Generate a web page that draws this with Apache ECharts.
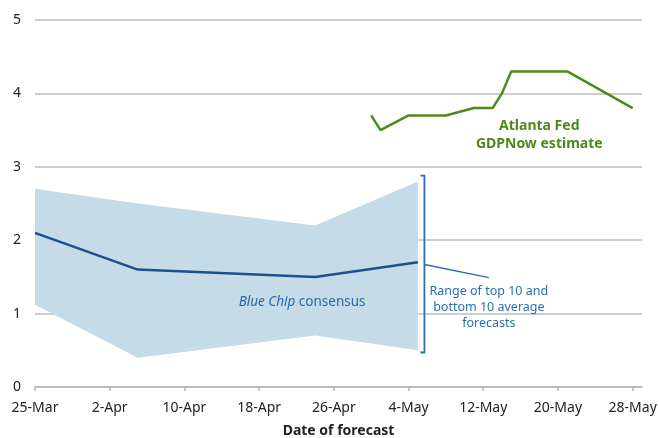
<!DOCTYPE html>
<html>
<head>
<meta charset="utf-8">
<script src="https://cdn.jsdelivr.net/npm/echarts@6/dist/echarts.min.js"></script>
<style>
html,body{margin:0;padding:0;background:#fff;}
#chart{width:659px;height:438px;}
</style>
</head>
<body>
<div id="chart"></div>
<script>
// Days since 25-Mar
const xTickLabels = ['25-Mar','2-Apr','10-Apr','18-Apr','26-Apr','4-May','12-May','20-May','28-May'];
const consensusDays = [0, 11, 30, 41];
const consensusValues = [2.1, 1.6, 1.5, 1.7];
const bandLow = [1.12, 0.4, 0.7, 0.5];
const bandHigh = [2.7, 2.5, 2.2, 2.8];
const gdpNowDays = [36, 37, 40, 44, 47, 49, 50, 51, 57, 64];
const gdpNowValues = [3.7, 3.5, 3.7, 3.7, 3.8, 3.8, 4.0, 4.3, 4.3, 3.8];

const FONT = '"Noto Sans", "Open Sans", sans-serif';
const chart = echarts.init(document.getElementById('chart'));

const bandRows = consensusDays.map((d, i) => [d, bandLow[i], bandHigh[i]]);

const option = {
  animation: false,
  grid: { left: 35, right: 17, top: 20, bottom: 51, containLabel: false, outerBoundsMode: 'none' },
  xAxis: {
    type: 'value', min: 0, max: 65, interval: 8,
    axisLine: { show: true, lineStyle: { color: '#b5b5b5', width: 1.5 } },
    axisTick: { show: true, length: 4, lineStyle: { color: '#b5b5b5', width: 1.5 } },
    splitLine: { show: false },
    axisLabel: {
      color: '#222', fontSize: 14, fontFamily: FONT, margin: 14,
      formatter: v => xTickLabels[Math.round(v / 8)] || ''
    },
    name: 'Date of forecast', nameLocation: 'middle', nameGap: 37,
    nameTextStyle: { color: '#222', fontSize: 14, fontWeight: 'bold', fontFamily: FONT }
  },
  yAxis: {
    type: 'value', min: 0, max: 5, interval: 1,
    axisLine: { show: false }, axisTick: { show: false },
    splitLine: { show: true, lineStyle: { color: '#bdbdbd', width: 1.5 } },
    axisLabel: { color: '#222', fontSize: 14, fontFamily: FONT, margin: 14 }
  },
  series: [
    {
      type: 'custom', coordinateSystem: 'cartesian2d', data: bandRows, z: 1, silent: true,
      encode: { x: 0, y: [1, 2] },
      renderItem: function (params, api) {
        if (params.dataIndex !== 0) return null;
        const upper = bandRows.map(r => api.coord([r[0], r[2]]));
        const lower = bandRows.map(r => api.coord([r[0], r[1]])).reverse();
        return { type: 'polygon', shape: { points: upper.concat(lower) },
          style: { fill: '#c5dbe8', stroke: null } };
      }
    },
    {
      type: 'line', data: consensusDays.map((d, i) => [d, consensusValues[i]]),
      symbol: 'none', lineStyle: { color: '#1d4f90', width: 2.5 }, z: 3
    },
    {
      type: 'line', data: gdpNowDays.map((d, i) => [d, gdpNowValues[i]]),
      symbol: 'none', lineStyle: { color: '#4b8b1b', width: 2.5 }, z: 3
    },
    {
      type: 'custom', coordinateSystem: 'cartesian2d', data: [[0, 0]], z: 4, silent: true,
      renderItem: function (params, api) {
        const top = api.coord([41.7, 2.88]);
        const bot = api.coord([41.7, 0.47]);
        const mid = api.coord([41.7, 1.67]);
        const leadEnd = api.coord([48.6, 1.49]);
        const bc = '#2a6fae';
        const rangeC = api.coord([48.6, 1.09]);
        const blueC = api.coord([28.6, 1.16]);
        const atl = api.coord([54.0, 3.43]);
        return {
          type: 'group',
          children: [
            { type: 'polyline', shape: { points: [[top[0] - 4, top[1]], [top[0], top[1]], [bot[0], bot[1]], [bot[0] - 4, bot[1]]] },
              style: { stroke: bc, lineWidth: 1.8, fill: null } },
            { type: 'line', shape: { x1: mid[0], y1: mid[1], x2: leadEnd[0], y2: leadEnd[1] },
              style: { stroke: bc, lineWidth: 1.5 } },
            { type: 'text', x: rangeC[0], y: rangeC[1],
              style: { text: 'Range of top 10 and\nbottom 10 average\nforecasts', fill: bc, fontSize: 12.5,
                fontFamily: FONT, align: 'center', verticalAlign: 'middle', lineHeight: 16 } },
            { type: 'text', x: blueC[0], y: blueC[1],
              style: { text: '{i|Blue Chip} consensus', fill: '#2a6aa6', fontSize: 13.5, fontFamily: FONT,
                align: 'center', verticalAlign: 'middle',
                rich: { i: { fontStyle: 'italic', fontSize: 13.5, fontFamily: FONT, fill: '#2a6aa6' } } } },
            { type: 'text', x: atl[0], y: atl[1],
              style: { text: 'Atlanta Fed\nGDPNow estimate', fill: '#4a8a1c', fontSize: 14, fontWeight: 'bold',
                fontFamily: FONT, align: 'center', verticalAlign: 'middle', lineHeight: 18 } }
          ]
        };
      }
    }
  ]
};
chart.setOption(option);
</script>
</body>
</html>
